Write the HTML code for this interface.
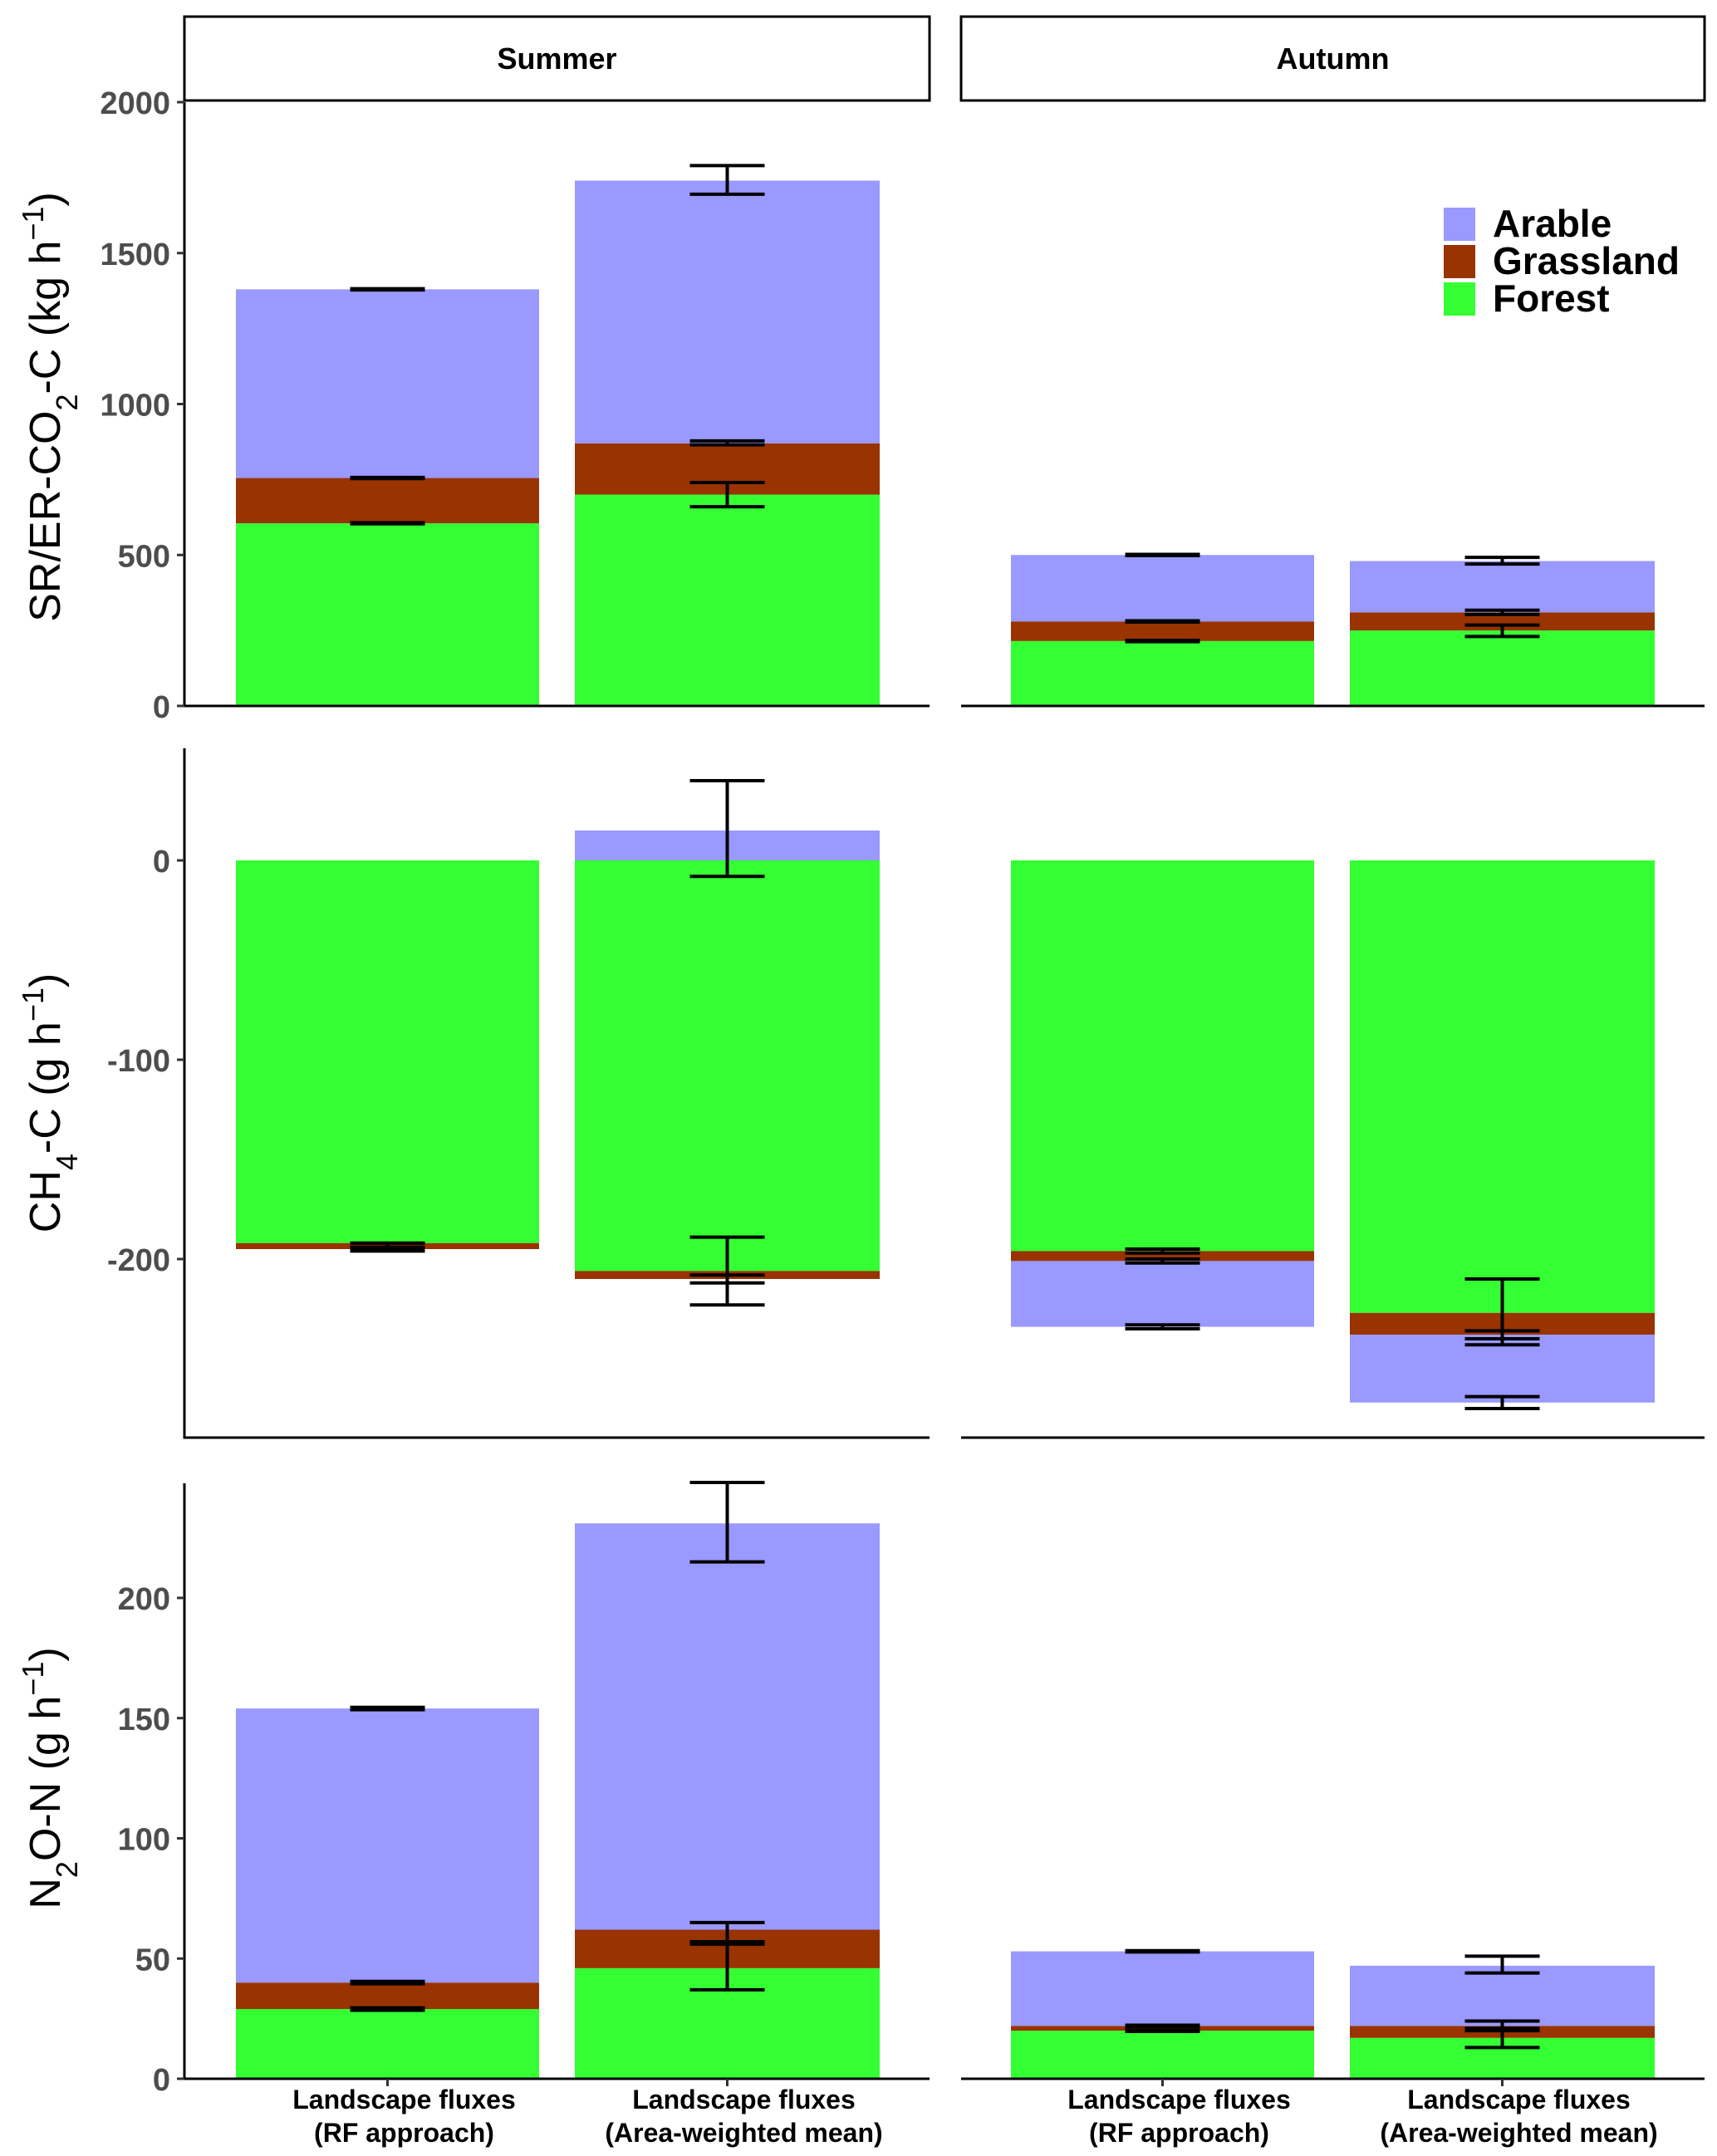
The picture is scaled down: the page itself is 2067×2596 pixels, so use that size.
<!DOCTYPE html>
<html><head><meta charset="utf-8"><style>
body{margin:0;background:#fff}
svg{display:block;font-family:"Liberation Sans",Arial,sans-serif}
</style></head><body>
<svg id="chart" width="2067" height="2596" viewBox="0 0 2067 2596" xmlns="http://www.w3.org/2000/svg">
<g id="g"></g>
</svg>
<script>
const seasons = ["Summer", "Autumn"];
const categories = ["Landscape fluxes|(RF approach)", "Landscape fluxes|(Area-weighted mean)"];
const landUses = ["Forest", "Grassland", "Arable"];
const colors = {Forest:"#33ff33", Grassland:"#993300", Arable:"#9999ff"};
// values per row: [season][bar][forest, grassland, arable]
const co2Values = [[[605,150,625],[700,170,870]],[[215,65,220],[250,60,170]]];
const ch4Values = [[[-192,-3,0],[-206,-4,15]],[[-196,-5,-33],[-227,-11,-34]]];
const n2oValues = [[[29,11,114],[46,16,169]],[[20,2,31],[17,5,25]]];
// error bars: [season][bar] list of [center, low, high]
const co2Errors = [[[[1380,1378,1382],[755,753,757],[605,603,607]],[[1740,1695,1790],[870,865,878],[700,660,740]]],[[[500,498,502],[280,278,282],[215,213,217]],[[480,470,492],[310,303,317],[250,230,268]]]];
const ch4Errors = [[[[-193,-192,-195],[-195,-194,-196]],[[15,-8,40],[-206,-189,-223],[-210,-208,-212]]],[[[-196,-195,-197],[-201,-200,-202],[-234,-233,-235]],[[-227,-210,-243],[-238,-236,-240],[-272,-269,-275]]]];
const n2oErrors = [[[[154,153.5,154.5],[40,39.5,40.5],[29,28.5,29.5]],[[231,215,248],[62,57,65],[46,37,56]]],[[[53,52.7,53.3],[22,21.7,22.3],[20,19.7,20.3]],[[47,44,51],[22,20,24],[17,13,21]]]];
const co2Ticks = [0,500,1000,1500,2000];
const ch4Ticks = [0,-100,-200];
const n2oTicks = [0,50,100,150,200];

const NS="http://www.w3.org/2000/svg";
const g=document.getElementById('g');
function el(tag,attrs,parent){const e=document.createElementNS(NS,tag);for(const k in attrs)e.setAttribute(k,attrs[k]);(parent||g).appendChild(e);return e;}

const panelX=[[222,1119],[1157,2052]];
const barX=[[[284,649],[692,1059]],[[1217,1582],[1625,1992]]];
const rows=[
 {name:"co2",vals:co2Values,errs:co2Errors,ticks:co2Ticks,v0:0,y0:850,v1:2000,y1:123,top:123,bottom:850,title:'SR/ER-CO<tspan baseline-shift="sub" font-size="36">2</tspan>-C (kg h<tspan baseline-shift="super" font-size="36">−1</tspan>)',ty:490},
 {name:"ch4",vals:ch4Values,errs:ch4Errors,ticks:ch4Ticks,v0:0,y0:1036,v1:-200,y1:1516,top:901,bottom:1731,title:'CH<tspan baseline-shift="sub" font-size="36">4</tspan>-C (g h<tspan baseline-shift="super" font-size="36">−1</tspan>)',ty:1328},
 {name:"n2o",vals:n2oValues,errs:n2oErrors,ticks:n2oTicks,v0:0,y0:2503,v1:200,y1:1924,top:1786,bottom:2503,title:'N<tspan baseline-shift="sub" font-size="36">2</tspan>O-N (g h<tspan baseline-shift="super" font-size="36">−1</tspan>)',ty:2141}
];

seasons.forEach((s,si)=>{
 const [a,b]=panelX[si];
 const r=el('rect',{x:a,y:20,width:b-a,height:101,fill:'#fff',stroke:'#000','stroke-width':3});
 
 
 const t=el('text',{x:(a+b)/2,y:83,'text-anchor':'middle','font-size':36,'font-weight':'bold'});
 t.textContent=s;
 
 
});

rows.forEach(row=>{
 const sy=v=>row.y0+(v-row.v0)*(row.y1-row.y0)/(row.v1-row.v0);
 seasons.forEach((s,si)=>{
  row.vals[si].forEach((bar,bi)=>{
   const [xa,xb]=barX[si][bi];
   let pos=0,neg=0;
   bar.forEach((v,li)=>{
    let from,to;
    if(v>=0){from=pos;to=pos+v;pos=to;}else{from=neg;to=neg+v;neg=to;}
    if(v===0)return;
    const ya=sy(from),yb=sy(to);
    const r=el('rect',{x:xa,y:Math.min(ya,yb),width:xb-xa,height:Math.abs(yb-ya),fill:colors[landUses[li]]});
    
    
   });
   const cx=(xa+xb)/2;
   row.errs[si][bi].forEach((e)=>{
    const lo=sy(e[1]),hi=sy(e[2]);
    const grp=el('g',{stroke:'#000','stroke-width':4});
    
    
    el('line',{x1:cx,x2:cx,y1:lo,y2:hi},grp);
    el('line',{x1:cx-45,x2:cx+45,y1:lo,y2:lo},grp);
    el('line',{x1:cx-45,x2:cx+45,y1:hi,y2:hi},grp);
   });
  });
  const [a,b]=panelX[si];
  const xl=el('line',{x1:a,x2:b,y1:row.bottom,y2:row.bottom,stroke:'#000','stroke-width':3});
  
  
 });
 const yl=el('line',{x1:222,x2:222,y1:row.top,y2:row.bottom+1.5,stroke:'#000','stroke-width':3});
 
 
 row.ticks.forEach(tv=>{
  const y=sy(tv);
  const tk=el('line',{x1:213,x2:222,y1:y,y2:y,stroke:'#333','stroke-width':3});
  
  
  const t=el('text',{x:205,y:y+14,'text-anchor':'end','font-size':38,'font-weight':'bold',fill:'#4d4d4d'});
  t.textContent=tv;
  
  
 });
 const tt=el('text',{x:0,y:0,'text-anchor':'middle','font-size':52,fill:'#000',transform:`translate(72,${row.ty}) rotate(-90)`});
 tt.innerHTML=row.title;
 
 
});

seasons.forEach((s,si)=>{
 categories.forEach((c,ci)=>{
  const [xa,xb]=barX[si][ci];
  const cx=(xa+xb)/2;
  const tk=el('line',{x1:cx,x2:cx,y1:2503,y2:2512,stroke:'#333','stroke-width':3});
  
  
  const parts=c.split('|');
  parts.forEach((p,pi)=>{
   const t=el('text',{x:cx+20,y:2539+pi*40,'text-anchor':'middle','font-size':32,'font-weight':'bold'});
   t.textContent=p;
   
   
  });
 });
});

const legOrder=["Arable","Grassland","Forest"];
legOrder.forEach((n,i)=>{
 const y=250+i*45;
 const r=el('rect',{x:1738,y:y,width:38,height:40,fill:colors[n]});
 
 
 const t=el('text',{x:1797,y:y+35,'font-size':46,'font-weight':'bold'});
 t.textContent=n;
 
 
});
</script>
</body></html>
